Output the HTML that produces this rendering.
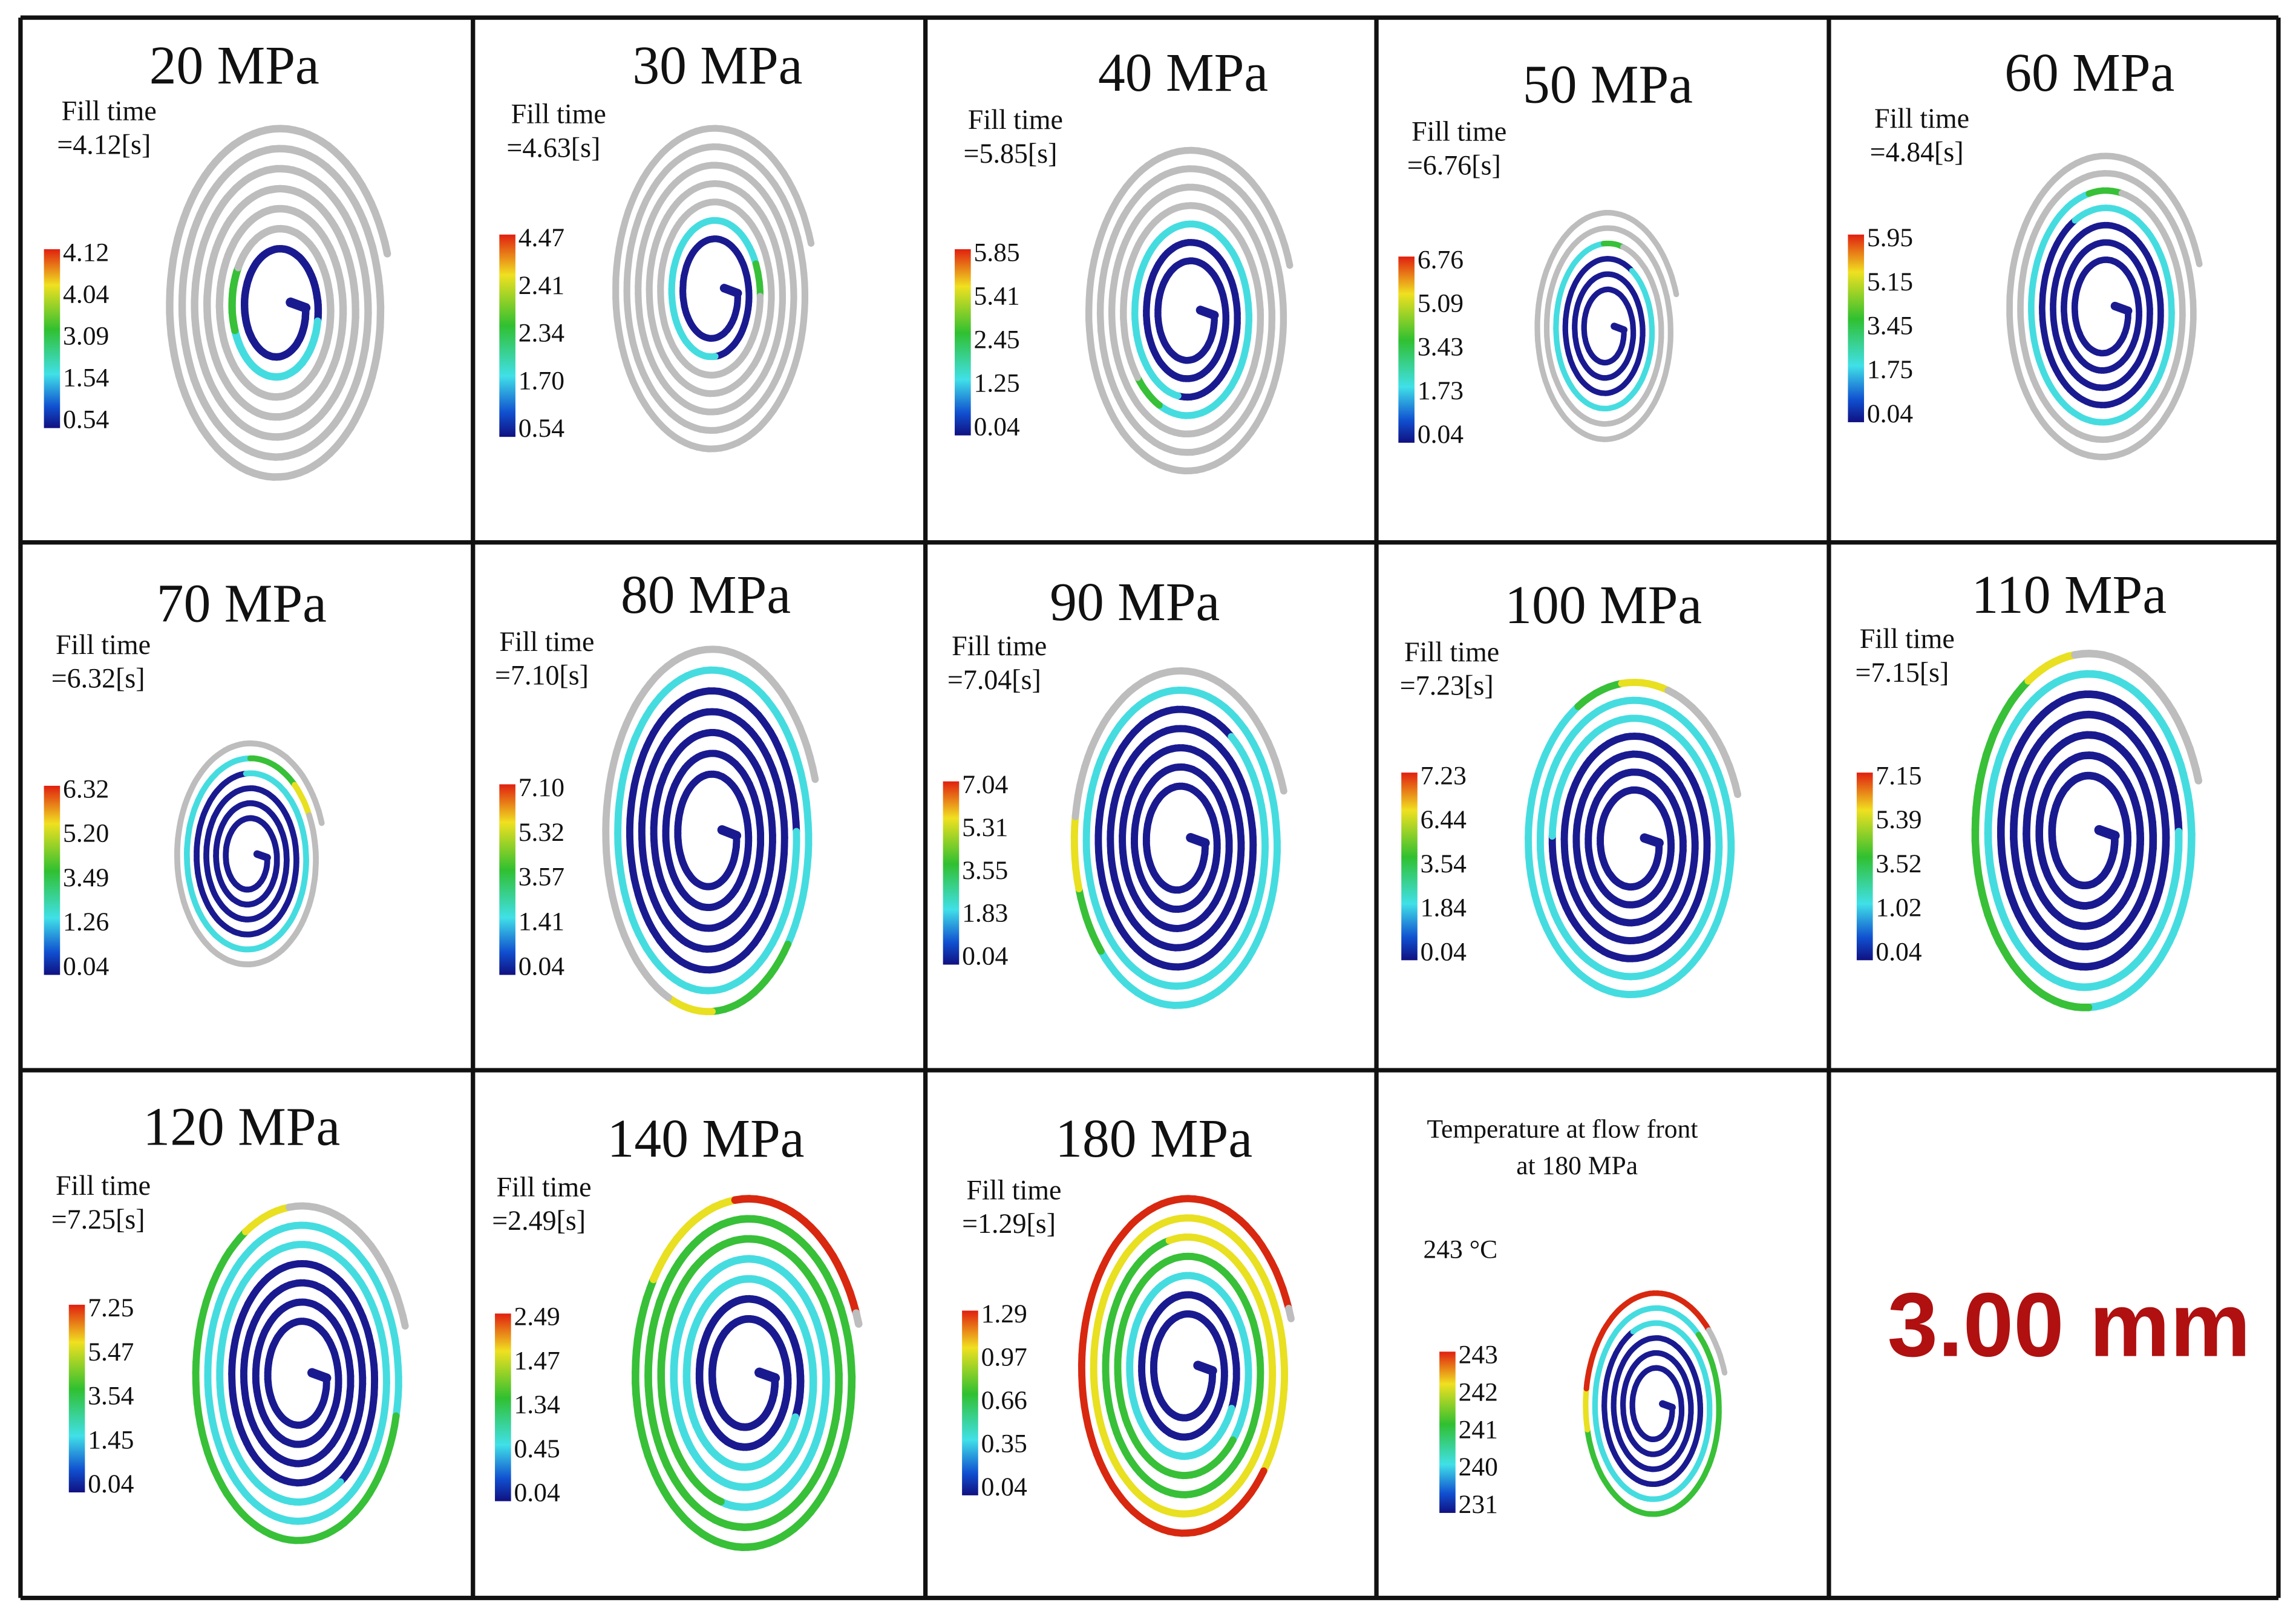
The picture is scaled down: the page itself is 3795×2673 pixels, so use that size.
<!DOCTYPE html>
<html><head><meta charset="utf-8"><style>
html,body{margin:0;padding:0;background:#fff;}
svg{display:block;}
text{font-family:"Liberation Serif",serif;fill:#111;}
</style></head><body>
<svg id="fig" width="3795" height="2673" viewBox="0 0 1568 1103" preserveAspectRatio="none" xmlns="http://www.w3.org/2000/svg">
<defs>
<linearGradient id="cbar" x1="0" y1="0" x2="0" y2="1">
<stop offset="0" stop-color="#e02010"/><stop offset="0.2" stop-color="#f0e020"/><stop offset="0.45" stop-color="#30c030"/><stop offset="0.7" stop-color="#40e0e8"/><stop offset="0.88" stop-color="#1050d0"/><stop offset="1" stop-color="#101080"/>
</linearGradient>
</defs>
<rect x="0" y="0" width="1568" height="1103" fill="#fff"/>
<g id="spirals"></g>
<g id="bars"></g>
<g id="labels"></g>
<g id="grid"></g>
</svg>
<script>
const pressures=["20 MPa","30 MPa","40 MPa","50 MPa","60 MPa","70 MPa","80 MPa","90 MPa","100 MPa","110 MPa","120 MPa","140 MPa","180 MPa"];
const fillTimes=["4.12","4.63","5.85","6.76","4.84","6.32","7.10","7.04","7.23","7.15","7.25","2.49","1.29"];
const barLabels=[["4.12","4.04","3.09","1.54","0.54"],["4.47","2.41","2.34","1.70","0.54"],["5.85","5.41","2.45","1.25","0.04"],["6.76","5.09","3.43","1.73","0.04"],["5.95","5.15","3.45","1.75","0.04"],["6.32","5.20","3.49","1.26","0.04"],["7.10","5.32","3.57","1.41","0.04"],["7.04","5.31","3.55","1.83","0.04"],["7.23","6.44","3.54","1.84","0.04"],["7.15","5.39","3.52","1.02","0.04"],["7.25","5.47","3.54","1.45","0.04"],["2.49","1.47","1.34","0.45","0.04"],["1.29","0.97","0.66","0.35","0.04"],["243","242","241","240","231"]];
// fill fraction stages along spiral: [blueEnd, cyanEnd, greenEnd, yellowEnd, redEnd] (remainder gray)
const fillStages=[[0.15,0.21,0.23,0.23,0.23],[0.18,0.28,0.29,0.29,0.29],[0.33,0.48,0.49,0.49,0.49],[0.48,0.63,0.64,0.64,0.64],[0.53,0.68,0.69,0.69,0.69],[0.63,0.80,0.82,0.83,0.83],[0.72,0.88,0.90,0.91,0.91],[0.70,0.92,0.93,0.94,0.94],[0.65,0.96,0.97,0.98,0.98],[0.72,0.90,0.96,0.97,0.97],[0.60,0.87,0.96,0.97,0.97],[0.30,0.62,0.95,0.97,1.0],[0.30,0.45,0.68,0.88,1.0],[0.62,0.82,0.92,0.93,0.99]];

const NS="http://www.w3.org/2000/svg";
function mk(tag,attrs,parent){const e=document.createElementNS(NS,tag);for(const k in attrs)e.setAttribute(k,attrs[k]);parent.appendChild(e);return e;}
const sp=document.getElementById('spirals'),bars=document.getElementById('bars'),lab=document.getElementById('labels'),grid=document.getElementById('grid');
const colX=[14,323,632,940,1249,1556],rowY=[12,370,730,1090];
const geo=[[190,210,78,125,7],[487,200,70,115,7],[812,215,72,115,7],[1097,225,50,82,6],[1437,212,68,108,7],
[170,585,52,80,6],[485,570,75,130,7],[805,575,75,120,7],[1115,575,75,112,7],[1425,570,80,127,7],
[205,940,75,120,7],[510,940,80,125,7],[810,935,75,120,7],[1130,960,50,80,6]];
const cols=["#1a1a90","#45dce0","#38c038","#e8e020","#d82810"];
function colorAt(t,st){
  if(t<st[0])return cols[0];
  for(let i=1;i<5;i++){if(t<st[i])return cols[i];}
  return "#bdbdbd";
}
geo.forEach((g,p)=>{
  const [cx,cy,rx,ry,turns]=g;const st=fillStages[p];
  const gp=mk('g',{},sp);
  
  
  const N=700;let prev=null;const r0=0.24;
  const sw=Math.max(3.5,(1-r0)*rx/turns*0.6);
  for(let i=0;i<=N;i++){
    const t=i/N;const th=t*(turns*2*Math.PI-0.3);const r=r0+(1-r0)*t;
    const pt=[cx+rx*r*Math.cos(th),cy+ry*r*Math.sin(th)];
    if(prev){mk('line',{x1:prev[0].toFixed(1),y1:prev[1].toFixed(1),x2:pt[0].toFixed(1),y2:pt[1].toFixed(1),stroke:colorAt(t,st),'stroke-width':sw.toFixed(1),'stroke-linecap':'round'},gp);}
    prev=pt;
  }
  mk('line',{x1:cx+rx*r0,y1:cy,x2:cx+rx*r0*0.45,y2:cy-ry*0.03,stroke:cols[0],'stroke-width':(sw*1.3).toFixed(1),'stroke-linecap':'round'},gp);
});
const barGeo=[[30,170,292],[341,160,298],[652,170,297],[955,175,302],[1262,160,288],[30,536,665],[341,535,665],[644,533,658],[957,527,655],[1268,527,655],[47,890,1018],[338,896,1024],[657,894,1020],[983,922,1032]];
barGeo.forEach((b,p)=>{
  const r=mk('rect',{x:b[0],y:b[1],width:11,height:b[2]-b[1],fill:'url(#cbar)'},bars);
  
  
  barLabels[p].forEach((s,i)=>{
    const y=b[1]+8+i*(b[2]-b[1]-8)/4;
    const tx=mk('text',{x:b[0]+13,y:y,'font-size':18},lab);tx.textContent=s;
    
    
  });
});
const titlePos=[[160,57],[490,57],[808,62],[1098,70],[1427,62],[165,424],[482,418],[775,423],[1095,425],[1413,418],[165,781],[482,789],[788,789]];
const fillPos=[[42,82],[349,84],[661,88],[964,96],[1280,87],[38,446],[341,444],[650,447],[959,451],[1270,442],[38,815],[339,816],[660,818]];
pressures.forEach((s,p)=>{
  const t=mk('text',{x:titlePos[p][0],y:titlePos[p][1],'font-size':37,'text-anchor':'middle'},lab);t.textContent=s;
  
  
  const f=mk('text',{x:fillPos[p][0],y:fillPos[p][1],'font-size':19},lab);f.textContent='Fill time';
  
  
  const v=mk('text',{x:fillPos[p][0]-3,y:fillPos[p][1]+23,'font-size':19},lab);v.textContent='='+fillTimes[p]+'[s]';
  
  
});
[["Temperature at flow front",1067,776],["at 180 MPa",1077,801]].forEach(a=>{
  const t=mk('text',{x:a[1],y:a[2],'font-size':18,'text-anchor':'middle'},lab);t.textContent=a[0];
  
  
});
const tt=mk('text',{x:972,y:858,'font-size':18},lab);tt.textContent='243 °C';


const mm=mk('text',{x:1413,y:925,'font-size':62,'text-anchor':'middle','font-weight':'bold',style:'font-family:"Liberation Sans",sans-serif;fill:#b01010'},lab);mm.textContent='3.00 mm';


colX.forEach(x=>{const l=mk('line',{x1:x,y1:rowY[0],x2:x,y2:rowY[3],stroke:'#111','stroke-width':3},grid);
  
  });
rowY.forEach(y=>{const l=mk('line',{x1:colX[0],y1:y,x2:colX[5],y2:y,stroke:'#111','stroke-width':3},grid);
  
  });
</script>
</body></html>
